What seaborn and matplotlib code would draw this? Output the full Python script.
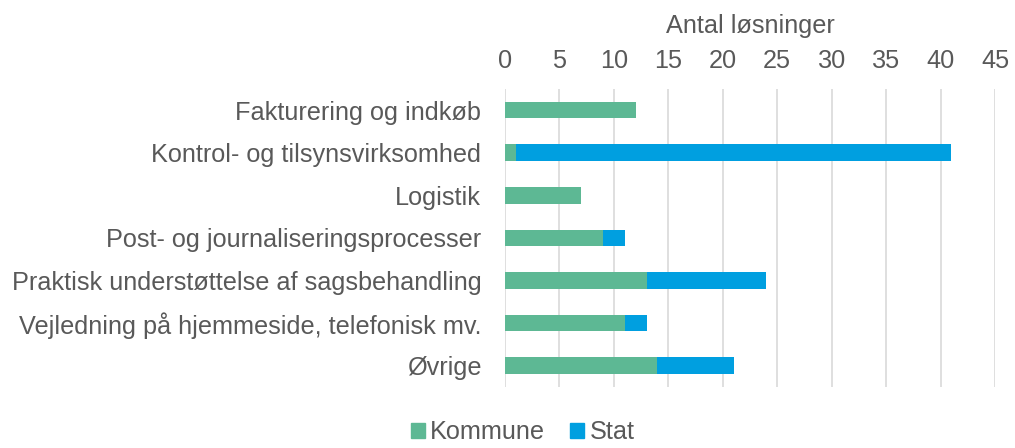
import pandas as pd
import matplotlib
matplotlib.use("Agg")
import matplotlib.pyplot as plt
import seaborn as sns
from matplotlib.patches import Patch

categories = ["Fakturering og indkøb", "Kontrol- og tilsynsvirksomhed", "Logistik",
              "Post- og journaliseringsprocesser", "Praktisk understøttelse af sagsbehandling",
              "Vejledning på hjemmeside, telefonisk mv.", "Øvrige"]
kommune = [12, 1, 7, 9, 13, 11, 14]
stat = [0, 40, 0, 2, 11, 2, 7]

green = "#5DB894"
blue = "#009FE0"
txt = "#595959"

sns.set_style("white")
plt.rcParams['font.family'] = ['Liberation Sans', 'DejaVu Sans']

df = pd.DataFrame({"kategori": categories, "Kommune": kommune, "Stat": stat})
df["total"] = df["Kommune"] + df["Stat"]

fig = plt.figure(figsize=(10.15, 4.48), dpi=100)
ax = fig.add_axes([0.4975, 0.136, 0.4828, 0.666])

# stacked bars: total (Stat colour) underneath, Kommune on top
sns.barplot(data=df, y="kategori", x="total", color=blue, width=0.39, ax=ax,
            saturation=1, orient="h", linewidth=0)
sns.barplot(data=df, y="kategori", x="Kommune", color=green, width=0.39, ax=ax,
            saturation=1, orient="h", linewidth=0)

fs = 18.2
ax.set_xlim(0, 45)
ax.set_xticks(range(0, 46, 5))
ax.xaxis.tick_top()
ax.xaxis.set_label_position("top")
ax.set_xlabel("Antal løsninger", fontsize=fs, color=txt, labelpad=12)
ax.set_ylabel("")
ax.grid(axis="x", color="#D9D9D9", linewidth=1.2)
ax.set_axisbelow(True)
for s in ax.spines.values():
    s.set_visible(False)
ax.tick_params(axis="both", length=0, labelsize=fs, labelcolor=txt)
ax.tick_params(axis="y", pad=17)
ax.tick_params(axis="x", pad=11)

handles = [Patch(color=green, label="Kommune"), Patch(color=blue, label="Stat")]
fig.legend(handles=handles, loc="lower center", bbox_to_anchor=(0.515, -0.042), ncol=2,
           frameon=False, fontsize=fs, labelcolor=txt, handlelength=0.55,
           handleheight=0.55, handletextpad=0.2, columnspacing=1.0)

fig.savefig("out.png", dpi=100)
